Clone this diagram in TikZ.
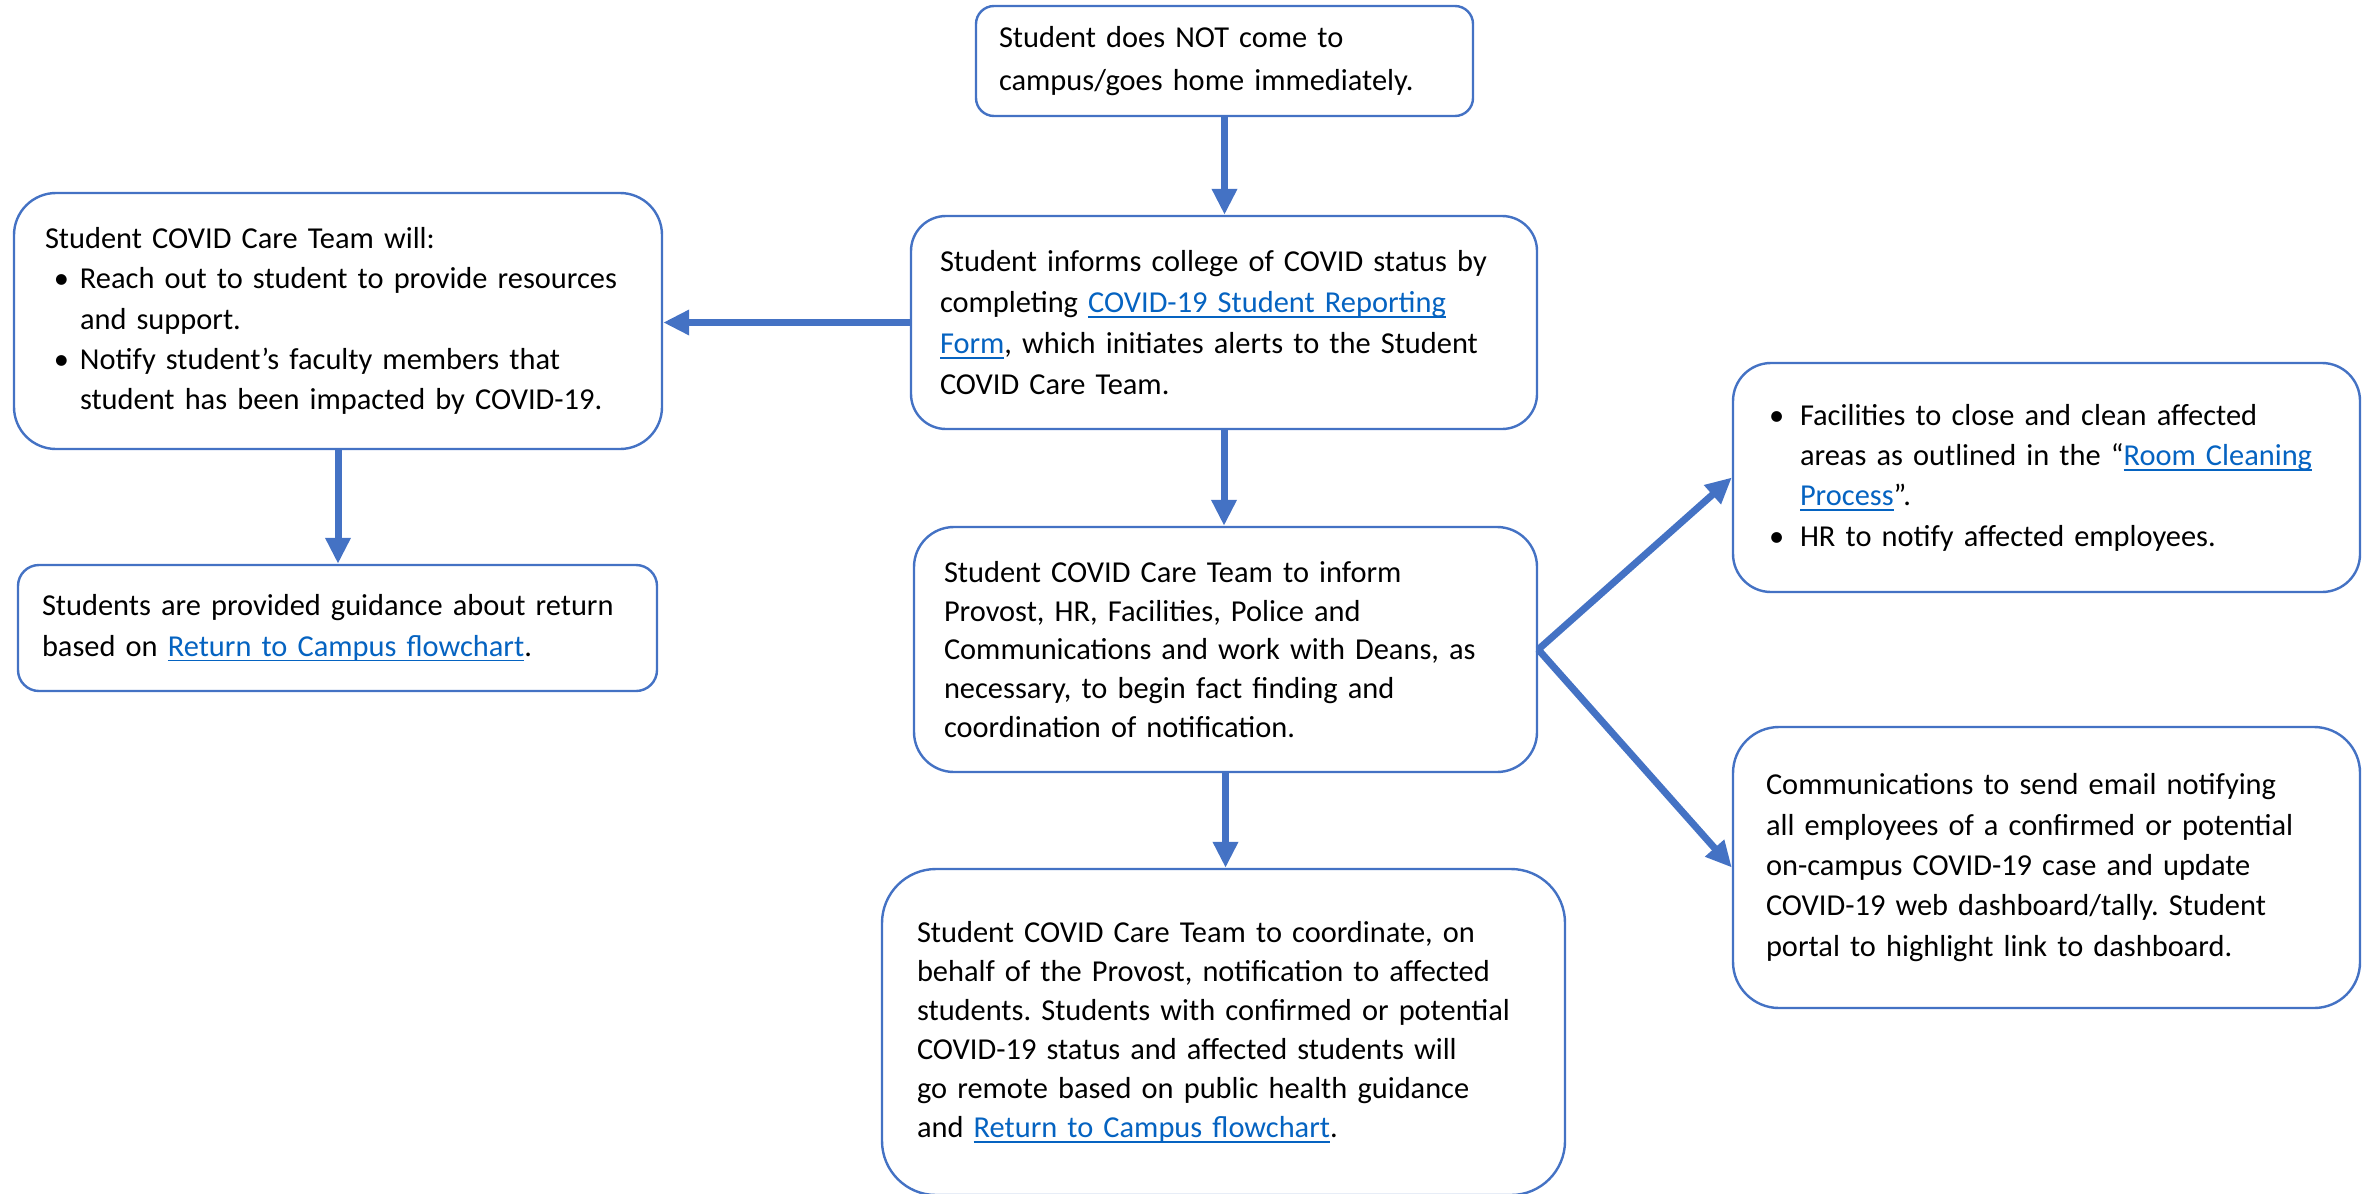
\documentclass[tikz,border=0pt]{standalone}
\usepackage{fontspec}
\setmainfont{Carlito}
\frenchspacing
\usetikzlibrary{arrows.meta}
\definecolor{boxblue}{HTML}{4472C4}
\definecolor{linkblue}{HTML}{0563C1}
\newsavebox\lnkbox
\newcommand\lnk[1]{\leavevmode\sbox\lnkbox{\color{linkblue}#1}\usebox\lnkbox\textcolor{linkblue}{\llap{\rule[-2.6pt]{\wd\lnkbox}{0.9pt}}}}
\newcommand\mybul[2]{\hspace*{#1}\makebox[#2][l]{•}}
\tikzset{
  cbox/.style={draw=boxblue, line width=1.2pt, rounded corners=#1, align=left,
    font=\fontsize{15.2}{20.2}\selectfont, fill=white, anchor=center, inner ysep=0pt},
  conn/.style={draw=boxblue, line width=3.5pt, line join=miter,
    -{Triangle[length=13pt,width=12pt]}}
}
\begin{document}
\begin{tikzpicture}[x=0.5pt,y=-0.5pt]
\useasboundingbox (0,0) rectangle (2369,1193);

\node[cbox=9pt, minimum width=248.5pt, minimum height=55pt, inner xsep=11.5pt, text width=225.5pt,
  font=\fontsize{15.2}{21.5}\selectfont]
  (b1) at (1224.5,61) {Student does NOT come to\\campus/goes home immediately.};

\node[cbox=17.5pt, minimum width=313pt, minimum height=106.5pt, inner xsep=14.5pt, text width=284pt,
  font=\fontsize{15.2}{20.6}\selectfont]
  (b2) at (1224,322.5) {Student informs college of COVID status by\\
completing \lnk{COVID-19 Student Reporting}\\
\lnk{Form}, which initiates alerts to the Student\\
COVID Care Team.};

\node[cbox=21pt, minimum width=324pt, minimum height=128pt, inner xsep=15.5pt, text width=293pt]
  (b3) at (338,321) {Student COVID Care Team will:\\
\mybul{4.5pt}{13pt}Reach out to student to provide resources\\
\hspace*{17.5pt}and support.\\
\mybul{4.5pt}{13pt}Notify student’s faculty members that\\
\hspace*{17.5pt}student has been impacted by COVID-19.};

\node[cbox=10.5pt, minimum width=319.5pt, minimum height=63pt, inner xsep=12pt, text width=295.5pt]
  (b4) at (337.5,628) {Students are provided guidance about return\\
based on \lnk{Return to Campus flowchart}.};

\node[cbox=20pt, minimum width=311.5pt, minimum height=122.5pt, inner xsep=15pt, text width=281.5pt,
  font=\fontsize{15.2}{19.4}\selectfont]
  (b5) at (1225.5,649.5) {Student COVID Care Team to inform\\
Provost, HR, Facilities, Police and\\
Communications and work with Deans, as\\
necessary, to begin fact finding and\\
coordination of notification.};

\node[cbox=27pt, minimum width=341.5pt, minimum height=163pt, inner xsep=17.5pt, text width=306.5pt,
  font=\fontsize{15.2}{19.5}\selectfont]
  (b6) at (1223.5,1032) {Student COVID Care Team to coordinate, on\\
behalf of the Provost, notification to affected\\
students. Students with confirmed or potential\\
COVID-19 status and affected students will\\
go remote based on public health guidance\\
and \lnk{Return to Campus flowchart}.};

\node[cbox=19pt, minimum width=313.5pt, minimum height=114.5pt, inner xsep=18pt, text width=277.5pt]
  (b7) at (2046.5,477.5) {\mybul{0pt}{15.5pt}Facilities to close and clean affected\\
\hspace*{15.5pt}areas as outlined in the “\lnk{Room Cleaning}\\
\hspace*{15.5pt}\lnk{Process}”.\\
\mybul{0pt}{15.5pt}HR to notify affected employees.};

\node[cbox=23pt, minimum width=313.5pt, minimum height=140.5pt, inner xsep=16.5pt, text width=280.5pt]
  (b8) at (2046.5,867.5) {Communications to send email notifying\\
all employees of a confirmed or potential\\
on-campus COVID-19 case and update\\
COVID-19 web dashboard/tally. Student\\
portal to highlight link to dashboard.};

\draw[conn] (b1.south) -- (b1.south |- b2.north);
\draw[conn] (b2.west) -- (b2.west -| b3.east);
\draw[conn] (b3.south) -- (b3.south |- b4.north);
\draw[conn] (b2.south) -- (b2.south |- b5.north);
\draw[conn] (b5.south) -- (b5.south |- b6.north);
\draw[conn] (b5.east) -- (b7.west);
\draw[conn] (b5.east) -- (b8.west);
\end{tikzpicture}
\end{document}
